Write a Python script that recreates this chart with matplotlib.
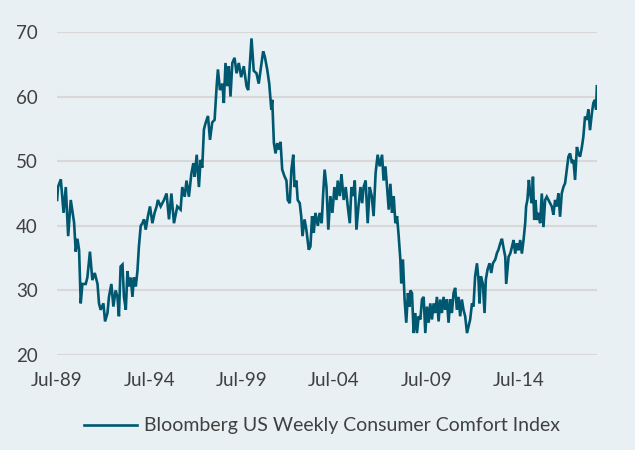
import numpy as np
import pandas as pd
import matplotlib
matplotlib.use("Agg")
import matplotlib.pyplot as plt
import matplotlib.dates as mdates

# Bloomberg US Weekly Consumer Comfort Index
years = [
    1989.50, 1989.55, 1989.70, 1989.85, 1989.97, 1990.10, 1990.24, 1990.42, 1990.51, 1990.60,
    1990.69, 1990.78, 1990.87, 1991.05, 1991.14, 1991.28, 1991.41, 1991.54, 1991.69, 1991.77,
    1991.86, 1992.01, 1992.10, 1992.23, 1992.31, 1992.44, 1992.55, 1992.67, 1992.77, 1992.85,
    1992.94, 1993.04, 1993.12, 1993.22, 1993.31, 1993.39, 1993.49, 1993.58, 1993.66, 1993.76,
    1993.85, 1993.93, 1994.03, 1994.12, 1994.21, 1994.30, 1994.42, 1994.53, 1994.66, 1994.78,
    1994.89, 1994.96, 1995.11, 1995.29, 1995.43, 1995.56, 1995.69, 1995.83, 1996.01, 1996.19,
    1996.28, 1996.41, 1996.51, 1996.64, 1996.77, 1996.88, 1996.95, 1997.06, 1997.18, 1997.27,
    1997.36, 1997.45, 1997.54, 1997.67, 1997.78, 1997.90, 1998.03, 1998.14, 1998.21, 1998.32,
    1998.45, 1998.53, 1998.62, 1998.72, 1998.80, 1998.89, 1998.99, 1999.11, 1999.22, 1999.34,
    1999.47, 1999.61, 1999.76, 1999.85, 1999.94, 2000.03, 2000.15, 2000.30, 2000.42, 2000.55,
    2000.66, 2000.75, 2000.88, 2000.99, 2001.10, 2001.15, 2001.24, 2001.33, 2001.42, 2001.51,
    2001.60, 2001.69, 2001.81, 2001.92, 2001.99, 2002.10, 2002.19, 2002.29, 2002.36, 2002.46,
    2002.53, 2002.64, 2002.72, 2002.79, 2002.90, 2003.00, 2003.13, 2003.22, 2003.31, 2003.40,
    2003.49, 2003.62, 2003.72, 2003.83, 2003.91, 2003.99, 2004.09, 2004.19, 2004.30, 2004.41,
    2004.52, 2004.63, 2004.70, 2004.81, 2004.90, 2005.02, 2005.13, 2005.24, 2005.35, 2005.44,
    2005.53, 2005.62, 2005.71, 2005.82, 2005.93, 2006.02, 2006.10, 2006.21, 2006.32, 2006.43,
    2006.54, 2006.64, 2006.75, 2006.86, 2006.97, 2007.10, 2007.18, 2007.28, 2007.37, 2007.46,
    2007.55, 2007.64, 2007.73, 2007.82, 2007.91, 2008.00, 2008.09, 2008.14, 2008.23, 2008.32,
    2008.41, 2008.50, 2008.59, 2008.63, 2008.72, 2008.81, 2008.90, 2008.99, 2009.08, 2009.17,
    2009.26, 2009.35, 2009.44, 2009.53, 2009.62, 2009.71, 2009.80, 2009.89, 2009.98, 2010.07,
    2010.16, 2010.25, 2010.34, 2010.43, 2010.52, 2010.61, 2010.70, 2010.79, 2010.88, 2010.97,
    2011.06, 2011.15, 2011.24, 2011.33, 2011.42, 2011.51, 2011.60, 2011.70, 2011.78, 2011.87,
    2011.97, 2012.05, 2012.14, 2012.24, 2012.32, 2012.38, 2012.45, 2012.56, 2012.65, 2012.72,
    2012.81, 2012.92, 2013.01, 2013.10, 2013.23, 2013.32, 2013.40, 2013.50, 2013.59, 2013.67,
    2013.77, 2013.82, 2013.95, 2014.04, 2014.13, 2014.22, 2014.31, 2014.40, 2014.49, 2014.58,
    2014.67, 2014.76, 2014.85, 2014.90, 2014.97, 2015.05, 2015.12, 2015.21, 2015.27, 2015.34,
    2015.41, 2015.48, 2015.57, 2015.66, 2015.75, 2015.84, 2015.93, 2016.02, 2016.11, 2016.20,
    2016.29, 2016.38, 2016.47, 2016.56, 2016.65, 2016.74, 2016.83, 2016.92, 2017.01, 2017.10,
    2017.19, 2017.28, 2017.38, 2017.46, 2017.55, 2017.65, 2017.73, 2017.82, 2017.92, 2018.00,
    2018.09, 2018.19, 2018.27, 2018.36, 2018.46, 2018.54, 2018.63, 2018.69, 2018.73,
]
comfort = [
    44.0, 46.0, 47.2, 42.0, 46.0, 38.4, 44.0, 40.5, 36.0, 38.0,
    36.3, 28.0, 31.0, 31.0, 32.0, 36.0, 31.6, 32.7, 31.0, 28.0,
    27.0, 28.0, 25.2, 26.5, 29.0, 31.0, 27.5, 30.0, 29.0, 26.0,
    33.7, 34.0, 29.0, 27.0, 33.0, 30.6, 32.0, 29.0, 32.0, 30.6,
    33.0, 36.8, 40.0, 40.4, 41.0, 39.4, 41.5, 43.0, 40.4, 42.0,
    43.0, 44.0, 43.0, 44.0, 45.0, 41.0, 45.0, 40.4, 43.0, 42.5,
    46.0, 44.5, 47.0, 44.5, 48.0, 49.7, 47.6, 51.0, 46.0, 50.2,
    49.0, 54.9, 55.9, 57.0, 53.3, 56.0, 56.4, 61.6, 64.2, 61.0,
    62.0, 59.0, 65.2, 61.6, 64.7, 60.0, 65.2, 66.0, 63.6, 65.2,
    63.0, 64.7, 61.6, 61.0, 65.0, 69.0, 64.0, 63.6, 62.0, 64.7,
    67.0, 66.2, 64.2, 62.0, 58.0, 59.5, 52.8, 51.2, 52.8, 51.8,
    53.0, 48.7, 47.7, 47.0, 44.0, 43.5, 48.7, 51.0, 46.0, 47.0,
    44.0, 43.5, 41.5, 38.4, 41.0, 39.4, 36.3, 36.8, 41.5, 38.9,
    42.0, 40.0, 42.0, 40.4, 45.0, 48.7, 46.0, 39.4, 44.6, 42.0,
    46.0, 44.0, 47.0, 44.6, 48.0, 44.0, 46.0, 43.0, 40.4, 46.0,
    44.6, 47.0, 39.4, 43.0, 46.0, 43.5, 46.0, 47.0, 40.4, 46.0,
    44.6, 41.5, 48.2, 51.0, 49.2, 51.0, 47.0, 49.2, 46.0, 42.5,
    46.5, 42.0, 44.6, 40.4, 41.5, 38.4, 34.8, 31.1, 34.8, 28.6,
    25.0, 29.6, 27.5, 30.0, 29.6, 23.4, 26.5, 23.4, 26.0, 25.5,
    28.6, 29.0, 23.4, 27.5, 25.0, 28.0, 25.5, 28.0, 26.5, 29.0,
    25.2, 28.6, 26.5, 29.0, 27.0, 28.6, 25.0, 28.6, 26.5, 29.6,
    30.4, 27.0, 29.0, 26.0, 28.6, 27.0, 26.0, 23.4, 24.4, 25.5,
    28.0, 27.5, 32.2, 34.2, 31.7, 28.0, 32.2, 31.0, 26.5, 31.7,
    33.2, 34.2, 32.7, 34.2, 34.8, 35.8, 36.3, 37.3, 38.0, 36.7,
    35.2, 31.0, 35.2, 35.7, 36.7, 37.8, 35.7, 37.3, 36.2, 37.8,
    35.7, 37.8, 40.4, 43.0, 44.0, 47.1, 45.0, 43.5, 47.6, 40.9,
    44.0, 40.9, 42.0, 40.4, 45.0, 39.8, 44.0, 44.5, 44.0, 43.5,
    43.0, 41.7, 44.0, 43.0, 45.0, 41.4, 45.0, 46.0, 46.6, 48.6,
    50.7, 51.2, 49.7, 50.2, 47.1, 52.2, 51.2, 50.7, 52.2, 53.8,
    56.9, 56.4, 58.0, 54.8, 57.4, 59.0, 59.5, 58.0, 61.6,
]
tick_years = [1989, 1994, 1999, 2004, 2009, 2014]
y_ticks = [20, 30, 40, 50, 60, 70]
label = "Bloomberg US Weekly Consumer Comfort Index"


def to_date(y):
    yr = int(np.floor(y))
    return pd.Timestamp(yr, 1, 1) + pd.Timedelta(days=(y - yr) * 365.25)


dates = [to_date(y) for y in years]

bg = "#e8f0f3"
line_col = "#005870"
text_col = "#404040"

plt.rcParams["font.family"] = ["Lato", "DejaVu Sans"]

fig = plt.figure(figsize=(6.35, 4.5), dpi=100, facecolor=bg)
ax = fig.add_axes([0.0898, 0.211, 0.8504, 0.718], facecolor=bg)

ax.plot(dates, comfort, color=line_col, lw=1.9, label=label, zorder=3,
        solid_joinstyle="miter")

ax.set_ylim(20, 70)
ax.set_yticks(y_ticks)
ax.set_xlim(to_date(1989.5), to_date(2018.74))
ax.set_xticks([pd.Timestamp(y, 7, 1) for y in tick_years])
ax.xaxis.set_major_formatter(mdates.DateFormatter("%b-%y"))

ax.grid(axis="y", color="#d8d8d8", lw=1.5, zorder=1)
ax.grid(axis="x", visible=False)
for s in ax.spines.values():
    s.set_visible(False)
ax.tick_params(axis="y", length=0, pad=14, labelsize=13.5, labelcolor=text_col)
ax.tick_params(axis="x", length=0, pad=12, labelsize=13.5, labelcolor=text_col)

fig.legend(loc="center", bbox_to_anchor=(322 / 635, 1 - 426 / 450), frameon=False,
           fontsize=14, handlelength=2.7, handletextpad=0.35, labelcolor=text_col)

fig.savefig("out.png", dpi=100, facecolor=bg)
